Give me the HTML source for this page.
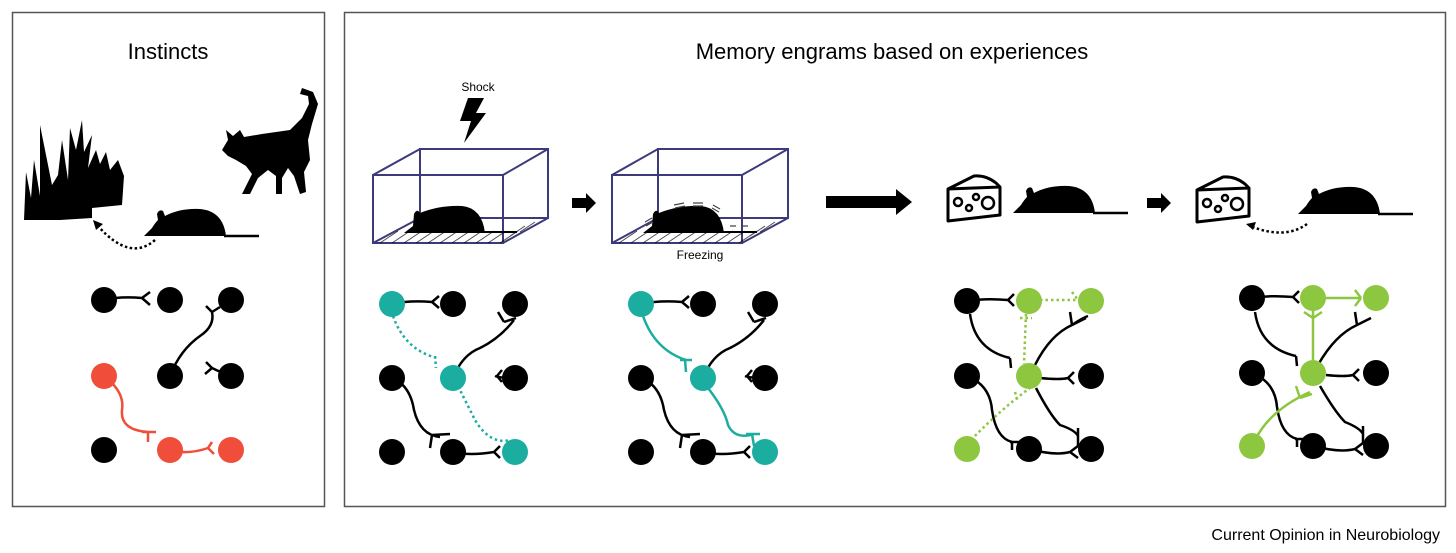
<!DOCTYPE html>
<html><head><meta charset="utf-8"><style>
html,body{margin:0;padding:0;background:#fff;}
svg{display:block;font-family:"Liberation Sans",Arial,sans-serif;}
</style></head><body>
<svg width="1456" height="553" viewBox="0 0 1456 553" xmlns="http://www.w3.org/2000/svg">
<defs>
<g id="mouse"><path d="M0,28 L8,20 Q11,15 14,12 L13,6 Q15,1 19,3 L21,8 Q36,0 56,1 Q79,3 82,28 Z" fill="#000"/><line x1="80" y1="28" x2="115" y2="28" stroke="#000" stroke-width="2.5"/></g>
<g id="cheese" fill="none" stroke="#000" stroke-width="3" stroke-linejoin="round"><path d="M2,14 L28,1 Q40,0 50,8 L54,12 L54,40 L2,46 Z M2,14 L54,12"/><circle cx="12" cy="27" r="4" stroke-width="2.5"/><circle cx="23" cy="33" r="3" stroke-width="2.5"/><circle cx="30" cy="22" r="3" stroke-width="2.5"/><circle cx="42" cy="28" r="6" stroke-width="2.5"/></g>
<path id="arr" d="M0,-5 L14,-5 L14,-10 L24,0 L14,10 L14,5 L0,5 Z" fill="#000"/>
</defs>
<rect x="12.5" y="12.5" width="312" height="494" fill="none" stroke="#555" stroke-width="1.5"/>
<rect x="344.5" y="12.5" width="1101" height="494" fill="none" stroke="#555" stroke-width="1.5"/>
<text x="168" y="59" font-size="22" text-anchor="middle">Instincts</text>
<text x="892" y="59" font-size="22" text-anchor="middle">Memory engrams based on experiences</text>
<text x="1440" y="540" font-size="16" text-anchor="end">Current Opinion in Neurobiology</text>

<!-- grass -->
<g fill="#000">
<path d="M24,220 L26,172 L31,198 L34,160 L40,196 L40,125 L52,185 L58,175 L62,140 L68,180 L70,128 L76,150 L82,120 L84,152 L92,135 L88,168 L96,150 L100,164 L106,152 L110,170 L118,160 L124,176 L122,205 L92,208 L92,218 L60,220 Z"/>
</g>
<!-- cat -->
<path fill="#000" d="M228,140 L226,130 L233,136 L240,130 L244,137 L262,134 L290,130 L302,118 L309,104 L308,96 L300,94 L302,88 L313,92 L318,104 L312,124 L308,140 L310,160 L304,172 L306,192 L300,194 L294,176 L288,168 L282,178 L282,194 L276,194 L276,176 L268,170 L258,178 L250,194 L242,194 L252,174 L246,166 L236,160 L228,156 L222,150 Z"/>
<use href="#mouse" transform="translate(144,208)"/>
<path d="M155,240 Q130,262 98,226" fill="none" stroke="#000" stroke-width="2.5" stroke-dasharray="2.5,2.5"/>
<path d="M93,220 L103,224 L96,230 Z" fill="#000"/>

<!-- left neurons -->
<g stroke="#000" stroke-width="2.5" fill="none">
<path d="M104,300 Q120,296 142,298 M142,298 L150,292 M142,298 L150,305"/>
<path d="M170,376 Q180,350 200,336 Q215,326 212,312 M212,312 L206,306 M212,312 L220,307"/>
<path d="M231,376 Q220,372 212,368 M212,368 L206,362 M212,368 L205,374"/>
</g>
<g stroke="#f04e3a" stroke-width="2.5" fill="none">
<path d="M104,376 Q125,392 122,410 Q120,430 148,432 M148,432 L148,442 M142,432 L156,432"/>
<path d="M170,450 Q188,455 208,448 M208,448 L212,442 M208,448 L214,454"/>
</g>
<g fill="#000"><circle cx="104" cy="300" r="13"/><circle cx="170" cy="300" r="13"/><circle cx="231" cy="300" r="13"/><circle cx="170" cy="376" r="13"/><circle cx="231" cy="376" r="13"/><circle cx="104" cy="450" r="13"/></g>
<g fill="#f04e3a"><circle cx="104" cy="376" r="13"/><circle cx="170" cy="450" r="13"/><circle cx="231" cy="450" r="13"/></g>

<!-- shock -->
<text x="478" y="91" font-size="12" text-anchor="middle">Shock</text>
<path d="M468,98 L484,98 L476,113 L486,113 L464,143 L471,121 L460,121 Z" fill="#000"/>

<!-- cage 1 -->
<g stroke="#3c3a7a" stroke-width="2" fill="none">
<rect x="373" y="175" width="130" height="68"/>
<rect x="420" y="149" width="128" height="69"/>
<path d="M373,175 L420,149 M503,175 L548,149 M503,243 L548,218 M373,243 L420,218"/>
</g>
<g stroke="#000" stroke-width="1" opacity="0.7">
<path d="M380,243 L398,231 M392,243 L410,231 M404,243 L422,231 M416,243 L434,231 M428,243 L446,231 M440,243 L458,231 M452,243 L470,231 M464,243 L482,231 M476,243 L494,231 M488,243 L506,231 M500,243 L518,231 M510,236 L525,226 M520,232 L535,222"/>
</g>
<path d="M404,233 L413,226 L414,214 Q417,208 420,213 Q440,205 462,206 Q482,208 485,233 Z" fill="#000"/>
<line x1="484" y1="232" x2="517" y2="232" stroke="#000" stroke-width="2"/>

<use href="#arr" transform="translate(572,203)"/>

<!-- cage 2 -->
<g stroke="#3c3a7a" stroke-width="2" fill="none">
<rect x="612" y="175" width="130" height="68"/>
<rect x="658" y="149" width="130" height="69"/>
<path d="M612,175 L658,149 M742,175 L788,149 M742,243 L788,218 M612,243 L658,218"/>
</g>
<g stroke="#000" stroke-width="1" opacity="0.7">
<path d="M619,243 L637,231 M631,243 L649,231 M643,243 L661,231 M655,243 L673,231 M667,243 L685,231 M679,243 L697,231 M691,243 L709,231 M703,243 L721,231 M715,243 L733,231 M727,243 L745,231 M739,243 L757,231 M750,236 L765,226 M760,232 L775,222"/>
</g>
<path d="M643,233 L652,226 L653,214 Q656,208 659,213 Q679,205 701,206 Q721,208 724,233 Z" fill="#000"/>
<line x1="723" y1="232" x2="757" y2="232" stroke="#000" stroke-width="2"/>
<g stroke="#444" stroke-width="1.2"><path d="M674,205 L684,203 M675,208 L685,206 M693,203 L703,203 M693,206 L703,206 M713,205 L720,209 M712,208 L719,212 M645,222 L652,218 M646,226 L653,222 M730,226 L736,226 M742,226 L748,226"/></g>
<text x="700" y="259" font-size="12" text-anchor="middle">Freezing</text>

<path d="M826,196 L896,196 L896,189 L912,202 L896,215 L896,208 L826,208 Z" fill="#000"/>

<use href="#cheese" transform="translate(946,175)"/>
<use href="#mouse" transform="translate(1013,185)"/>
<use href="#arr" transform="translate(1147,203)"/>
<use href="#cheese" transform="translate(1195,176)"/>
<use href="#mouse" transform="translate(1298,186)"/>
<path d="M1307,224 Q1285,240 1250,226" fill="none" stroke="#000" stroke-width="2.5" stroke-dasharray="2.5,2.5"/>
<path d="M1246,224 L1256,222 L1253,230 Z" fill="#000"/>

<!-- panel 1 neurons -->
<g stroke="#000" stroke-width="2.5" fill="none">
<path d="M392,304 Q410,300 432,302 M432,302 L439,296 M432,302 L439,308"/>
<path d="M453,378 Q462,355 480,348 Q500,338 514,320 M504,322 L498,312 M504,322 L516,318"/>
<path d="M515,378 Q500,378 495,376 M497,376 L502,370 M497,376 L502,382"/>
<path d="M392,378 Q410,385 414,410 Q420,435 440,437 M432,435 L430,448 M432,435 L450,434"/>
<path d="M453,452 Q470,456 494,452 M494,452 L500,446 M494,452 L500,458"/>
</g>
<g stroke="#1aada0" stroke-width="2.5" fill="none" stroke-dasharray="2.5,3">
<path d="M393,316 Q405,350 437,358 M435,356 L436,368"/>
<path d="M458,386 Q470,410 475,420 Q490,445 510,440"/>
</g>
<g fill="#000"><circle cx="453" cy="304" r="13"/><circle cx="515" cy="304" r="13"/><circle cx="392" cy="378" r="13"/><circle cx="515" cy="378" r="13"/><circle cx="392" cy="452" r="13"/><circle cx="453" cy="452" r="13"/></g>
<g fill="#1aada0"><circle cx="392" cy="304" r="13"/><circle cx="453" cy="378" r="13"/><circle cx="515" cy="452" r="13"/></g>

<!-- panel 2 neurons -->
<g stroke="#000" stroke-width="2.5" fill="none">
<path d="M641,304 Q660,300 682,302 M682,302 L689,296 M682,302 L689,308"/>
<path d="M703,378 Q712,355 730,348 Q750,338 764,320 M754,322 L748,312 M754,322 L766,318"/>
<path d="M765,378 Q750,378 745,376 M747,376 L752,370 M747,376 L752,382"/>
<path d="M641,378 Q660,385 664,410 Q670,435 690,437 M682,435 L680,448 M682,435 L700,434"/>
<path d="M703,452 Q720,456 744,452 M744,452 L750,446 M744,452 L750,458"/>
</g>
<g stroke="#1aada0" stroke-width="2.5" fill="none">
<path d="M643,316 Q655,350 686,360 M685,360 L686,372 M680,360 L692,360"/>
<path d="M708,388 Q725,410 728,425 Q735,440 754,434 M752,434 L754,446 M746,434 L760,434"/>
</g>
<g fill="#000"><circle cx="703" cy="304" r="13"/><circle cx="765" cy="304" r="13"/><circle cx="641" cy="378" r="13"/><circle cx="765" cy="378" r="13"/><circle cx="641" cy="452" r="13"/><circle cx="703" cy="452" r="13"/></g>
<g fill="#1aada0"><circle cx="641" cy="304" r="13"/><circle cx="703" cy="378" r="13"/><circle cx="765" cy="452" r="13"/></g>

<!-- panel 3 neurons -->
<g stroke="#000" stroke-width="2.5" fill="none">
<path d="M967,301 Q985,298 1008,300 M1008,300 L1014,294 M1008,300 L1014,306"/>
<path d="M970,314 Q975,350 1010,358 M1010,358 L1011,368"/>
<path d="M1035,365 Q1050,335 1072,325 Q1082,318 1088,316 M1072,325 L1070,312 M1072,325 L1086,318"/>
<path d="M1040,378 Q1060,380 1068,378 M1068,378 L1074,372 M1068,378 L1074,384"/>
<path d="M967,376 Q990,385 992,410 Q996,438 1012,442 M1012,442 L1012,450 M1010,442 L1024,442"/>
<path d="M1036,388 Q1050,415 1060,425 Q1075,430 1078,436 M1078,428 L1078,446"/>
<path d="M1029,449 Q1055,456 1070,452 M1070,452 L1078,446 M1070,452 L1078,458"/>
</g>
<g stroke="#8dc63f" stroke-width="2.5" fill="none" stroke-dasharray="2.5,3">
<path d="M1040,300 L1078,300 M1072,292 L1078,300"/>
<path d="M1026,314 L1024,364 M1020,318 L1032,318"/>
<path d="M971,440 Q1000,410 1030,388 M1015,392 L1018,402"/>
</g>
<g fill="#000"><circle cx="967" cy="301" r="13"/><circle cx="967" cy="376" r="13"/><circle cx="1091" cy="376" r="13"/><circle cx="1029" cy="449" r="13"/><circle cx="1091" cy="449" r="13"/></g>
<g fill="#8dc63f"><circle cx="1029" cy="301" r="13"/><circle cx="1091" cy="301" r="13"/><circle cx="1029" cy="376" r="13"/><circle cx="967" cy="449" r="13"/></g>

<!-- panel 4 neurons -->
<g stroke="#000" stroke-width="2.5" fill="none">
<path d="M1252,298 Q1270,295 1293,297 M1293,297 L1299,291 M1293,297 L1299,303"/>
<path d="M1255,312 Q1260,348 1296,356 M1296,356 L1297,366"/>
<path d="M1318,365 Q1335,335 1357,325 M1357,325 L1355,312 M1357,325 L1371,318"/>
<path d="M1326,375 Q1345,377 1353,375 M1353,375 L1359,369 M1353,375 L1359,381"/>
<path d="M1252,373 Q1275,382 1277,407 Q1281,435 1297,439 M1297,439 L1297,447 M1295,439 L1309,439"/>
<path d="M1320,386 Q1335,412 1345,422 Q1360,428 1363,434 M1363,426 L1363,444"/>
<path d="M1313,446 Q1340,453 1355,449 M1355,449 L1363,443 M1355,449 L1363,455"/>
</g>
<g stroke="#8dc63f" stroke-width="2.5" fill="none">
<path d="M1325,298 L1361,298 M1355,290 L1361,298 M1355,306 L1361,298"/>
<path d="M1313,310 L1313,360 M1304,312 L1313,318 M1322,312 L1313,318"/>
<path d="M1255,440 Q1270,410 1310,392 M1300,398 L1296,386 M1300,398 L1312,394"/>
</g>
<g fill="#000"><circle cx="1252" cy="298" r="13"/><circle cx="1252" cy="373" r="13"/><circle cx="1376" cy="373" r="13"/><circle cx="1313" cy="446" r="13"/><circle cx="1376" cy="446" r="13"/></g>
<g fill="#8dc63f"><circle cx="1313" cy="298" r="13"/><circle cx="1376" cy="298" r="13"/><circle cx="1313" cy="373" r="13"/><circle cx="1252" cy="446" r="13"/></g>
</svg>
</body></html>
